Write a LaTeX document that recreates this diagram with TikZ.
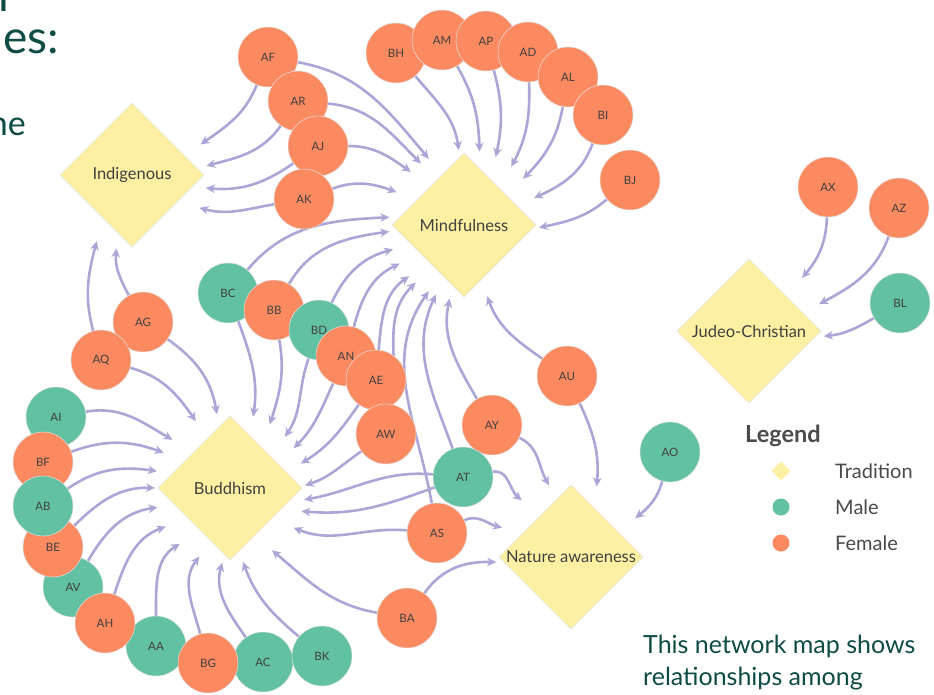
\documentclass[tikz,border=0pt]{standalone}
\usepackage{fontspec}
\setmainfont{Lato}
\usetikzlibrary{arrows.meta,backgrounds,shapes.geometric}
\definecolor{femc}{HTML}{FB8A61}
\definecolor{malc}{HTML}{62C1A2}
\definecolor{tradc}{HTML}{FDF0A3}
\definecolor{edgec}{HTML}{AAA6D5}
\definecolor{txtc}{HTML}{404040}
\definecolor{legc}{HTML}{4A4A4A}
\definecolor{tealc}{HTML}{0E4C45}
\tikzset{
  person/.style={circle, minimum size=60pt, inner sep=0pt, draw=black!12, line width=0.5pt,
    text=txtc, font=\fontsize{11.5}{13}\selectfont},
  fem/.style={person, fill=femc},
  mal/.style={person, fill=malc},
  trad/.style={circle, minimum size=144pt, inner sep=0pt, outer sep=3pt, text=txtc,
    font=\fontsize{16.5}{19}\selectfont,
    path picture={\fill[tradc, draw=black!10, line width=0.4pt] (path picture bounding box.north) -- (path picture bounding box.east) -- (path picture bounding box.south) -- (path picture bounding box.west) -- cycle;}},
  edge/.style={draw=edgec, line width=2.6pt, -{Stealth[length=9pt,width=8.5pt,inset=2.8pt]}},
  legtext/.style={anchor=west, inner sep=0pt, text=legc, font=\fontsize{20}{24}\selectfont},
  tealtext/.style={inner sep=0pt, text=tealc},
}
\begin{document}
\begin{tikzpicture}[x=1pt,y=-1pt]
\useasboundingbox (0,0) rectangle (934,694);
\clip (0,0) rectangle (934,694);
\begin{pgfonlayer}{background}
\fill[white] (0,0) rectangle (934,694);
\end{pgfonlayer}

% side texts
\node[tealtext, anchor=base west, font=\fontsize{46}{52}\selectfont] (t0) at (-2,11) {l};
\node[tealtext, anchor=base east, font=\fontsize{46}{52}\selectfont] (t1) at (59,53) {es:};
\node[tealtext, anchor=base east, font=\fontsize{34}{40}\selectfont] (t2) at (26,135) {ne};
\node[tealtext, anchor=base west, font=\fontsize{25}{30}\selectfont] (t3) at (643,653) {This network map shows};
\node[tealtext, anchor=base west, font=\fontsize{25}{30}\selectfont] (t4) at (643,685) {relationships among};

% traditions
\node[trad] (I) at (132,175) {Indigenous};
\node[trad] (M) at (464,225) {Mindfulness};
\node[trad] (J) at (749,331) {Judeo-Christian};
\node[trad] (B) at (230,488) {Buddhism};
\node[trad] (N) at (571,557) {Nature awareness};

% people
\node[fem] (AF) at (268,57) {AF};
\node[fem] (AR) at (298,101) {AR};
\node[fem] (AJ) at (318,146) {AJ};
\node[fem] (AK) at (304,199) {AK};
\node[fem] (BH) at (396,53) {BH};
\node[fem] (AM) at (442,40) {AM};
\node[fem] (AP) at (486,41) {AP};
\node[fem] (AD) at (528,52) {AD};
\node[fem] (AL) at (568,77) {AL};
\node[fem] (BI) at (603,115) {BI};
\node[fem] (BJ) at (630,180) {BJ};
\node[fem] (AX) at (828,187) {AX};
\node[fem] (AZ) at (899,208) {AZ};
\node[mal] (BL) at (900,303) {BL};
\node[mal] (BC) at (228,293) {BC};
\node[fem] (BB) at (274,310) {BB};
\node[mal] (BD) at (319,330) {BD};
\node[fem] (AN) at (346,356) {AN};
\node[fem] (AE) at (376,380) {AE};
\node[fem] (AW) at (386,434) {AW};
\node[fem] (AY) at (492,425) {AY};
\node[mal] (AT) at (463,477) {AT};
\node[fem] (AS) at (437,533) {AS};
\node[fem] (AU) at (567,376) {AU};
\node[fem] (BA) at (407,618) {BA};
\node[mal] (AO) at (670,452) {AO};
\node[fem] (AG) at (143,322) {AG};
\node[fem] (AQ) at (101,360) {AQ};
\node[mal] (AI) at (56,417) {AI};
\node[fem] (BF) at (43,462) {BF};
\node[mal] (AV) at (73,587) {AV};
\node[fem] (BE) at (53,547) {BE};
\node[mal] (AB) at (43,506) {AB};
\node[mal] (AA) at (156,646) {AA};
\node[fem] (AH) at (105,623) {AH};
\node[mal] (AC) at (263,662) {AC};
\node[mal] (BK) at (322,656) {BK};
\node[fem] (BG) at (208,663) {BG};

% legend
\node[anchor=west, inner sep=0pt, text=legc, font=\bfseries\fontsize{23.5}{28}\selectfont] (leg) at (745,436) {Legend};
\node[diamond, aspect=1, fill=tradc, minimum size=19pt, inner sep=0pt] (lt) at (781,471) {};
\node[circle, fill=malc, minimum size=17pt, inner sep=0pt] (lm) at (781,507) {};
\node[circle, fill=femc, minimum size=17pt, inner sep=0pt] (lf) at (781,543) {};
\node[legtext] (ltt) at (835,471) {Tradition};
\node[legtext] (lmt) at (835,507) {Male};
\node[legtext] (lft) at (835,543) {Female};

\begin{pgfonlayer}{background}
% Indigenous
\draw[edge] (AF.-112) to[out=-112,in=35] (I.24);
\draw[edge] (AR.-125) to[out=-125,in=15] (I.7);
\draw[edge] (AJ.-145) to[out=-145,in=-5] (I.-10);
\draw[edge] (AK.-170) to[out=-170,in=-15] (I.-26);
\draw[edge] (AQ.105) to[out=105,in=-105] (I.-118);
\draw[edge] (AG.118) to[out=118,in=-95] (I.-102);
% Mindfulness
\draw[edge] (AF.-10) to[out=-10,in=130] (M.118);
\draw[edge] (AR.-5) to[out=-5,in=135] (M.125);
\draw[edge] (AJ.0) to[out=0,in=145] (M.135);
\draw[edge] (AK.20) to[out=20,in=160] (M.154);
\draw[edge] (BH.-50) to[out=-50,in=98] (M.94);
\draw[edge] (AM.-60) to[out=-60,in=92] (M.78);
\draw[edge] (AP.-75) to[out=-75,in=78] (M.65);
\draw[edge] (AD.-88) to[out=-88,in=62] (M.51);
\draw[edge] (AL.-100) to[out=-100,in=46] (M.38);
\draw[edge] (BI.-110) to[out=-110,in=25] (M.21);
\draw[edge] (BJ.-140) to[out=-140,in=12] (M.-2);
\draw[edge] (BC.50) to[out=50,in=183] (M.174);
\draw[edge] (BB.60) to[out=60,in=188] (M.185);
\draw[edge] (BD.65) to[out=65,in=195] (M.199);
\draw[edge] (AN.75) to[out=75,in=205] (M.211);
\draw[edge] (AE.85) to[out=85,in=215] (M.223);
\draw[edge] (AW.80) to[out=80,in=225] (M.230);
\draw[edge] (AS.100) to[out=100,in=235] (M.242);
\draw[edge] (AT.110) to[out=110,in=245] (M.248);
\draw[edge] (AY.120) to[out=120,in=258] (M.259);
\draw[edge] (AU.145) to[out=145,in=290] (M.288);
% Nature awareness
\draw[edge] (AY.-25) to[out=-25,in=120] (N.107);
\draw[edge] (AU.-65) to[out=-65,in=85] (N.70);
\draw[edge] (AO.-105) to[out=-105,in=40] (N.31);
\draw[edge] (AT.10) to[out=10,in=140] (N.131);
\draw[edge] (AS.25) to[out=25,in=165] (N.157);
\draw[edge] (BA.55) to[out=55,in=178] (N.184);
% Buddhism
\draw[edge] (BA.170) to[out=170,in=-40] (B.-56);
\draw[edge] (AI.10) to[out=10,in=150] (B.140);
\draw[edge] (BF.20) to[out=20,in=160] (B.152);
\draw[edge] (AB.35) to[out=35,in=172] (B.167);
\draw[edge] (BE.45) to[out=45,in=178] (B.180);
\draw[edge] (AV.60) to[out=60,in=188] (B.195);
\draw[edge] (AH.72) to[out=72,in=200] (B.211);
\draw[edge] (AA.90) to[out=90,in=212] (B.228);
\draw[edge] (BG.105) to[out=105,in=232] (B.246);
\draw[edge] (AC.125) to[out=125,in=255] (B.264);
\draw[edge] (BK.140) to[out=140,in=290] (B.280);
\draw[edge] (AQ.-15) to[out=-15,in=125] (B.117);
\draw[edge] (AG.-35) to[out=-35,in=100] (B.100);
\draw[edge] (BC.-70) to[out=-70,in=82] (B.72);
\draw[edge] (BB.-80) to[out=-80,in=72] (B.58);
\draw[edge] (BD.-110) to[out=-110,in=56] (B.43);
\draw[edge] (AN.-115) to[out=-115,in=45] (B.32);
\draw[edge] (AE.-125) to[out=-125,in=32] (B.19);
\draw[edge] (AW.-145) to[out=-145,in=18] (B.2);
\draw[edge] (AT.175) to[out=175,in=10] (B.-9);
\draw[edge] (AT.200) to[out=200,in=-5] (B.-18);
\draw[edge] (AS.175) to[out=175,in=-22] (B.-32);
% Judeo-Christian
\draw[edge] (AX.-92) to[out=-92,in=50] (J.45);
\draw[edge] (AZ.-110) to[out=-110,in=28] (J.21);
\draw[edge] (BL.-150) to[out=-150,in=6] (J.-4);
\end{pgfonlayer}
\end{tikzpicture}
\end{document}
